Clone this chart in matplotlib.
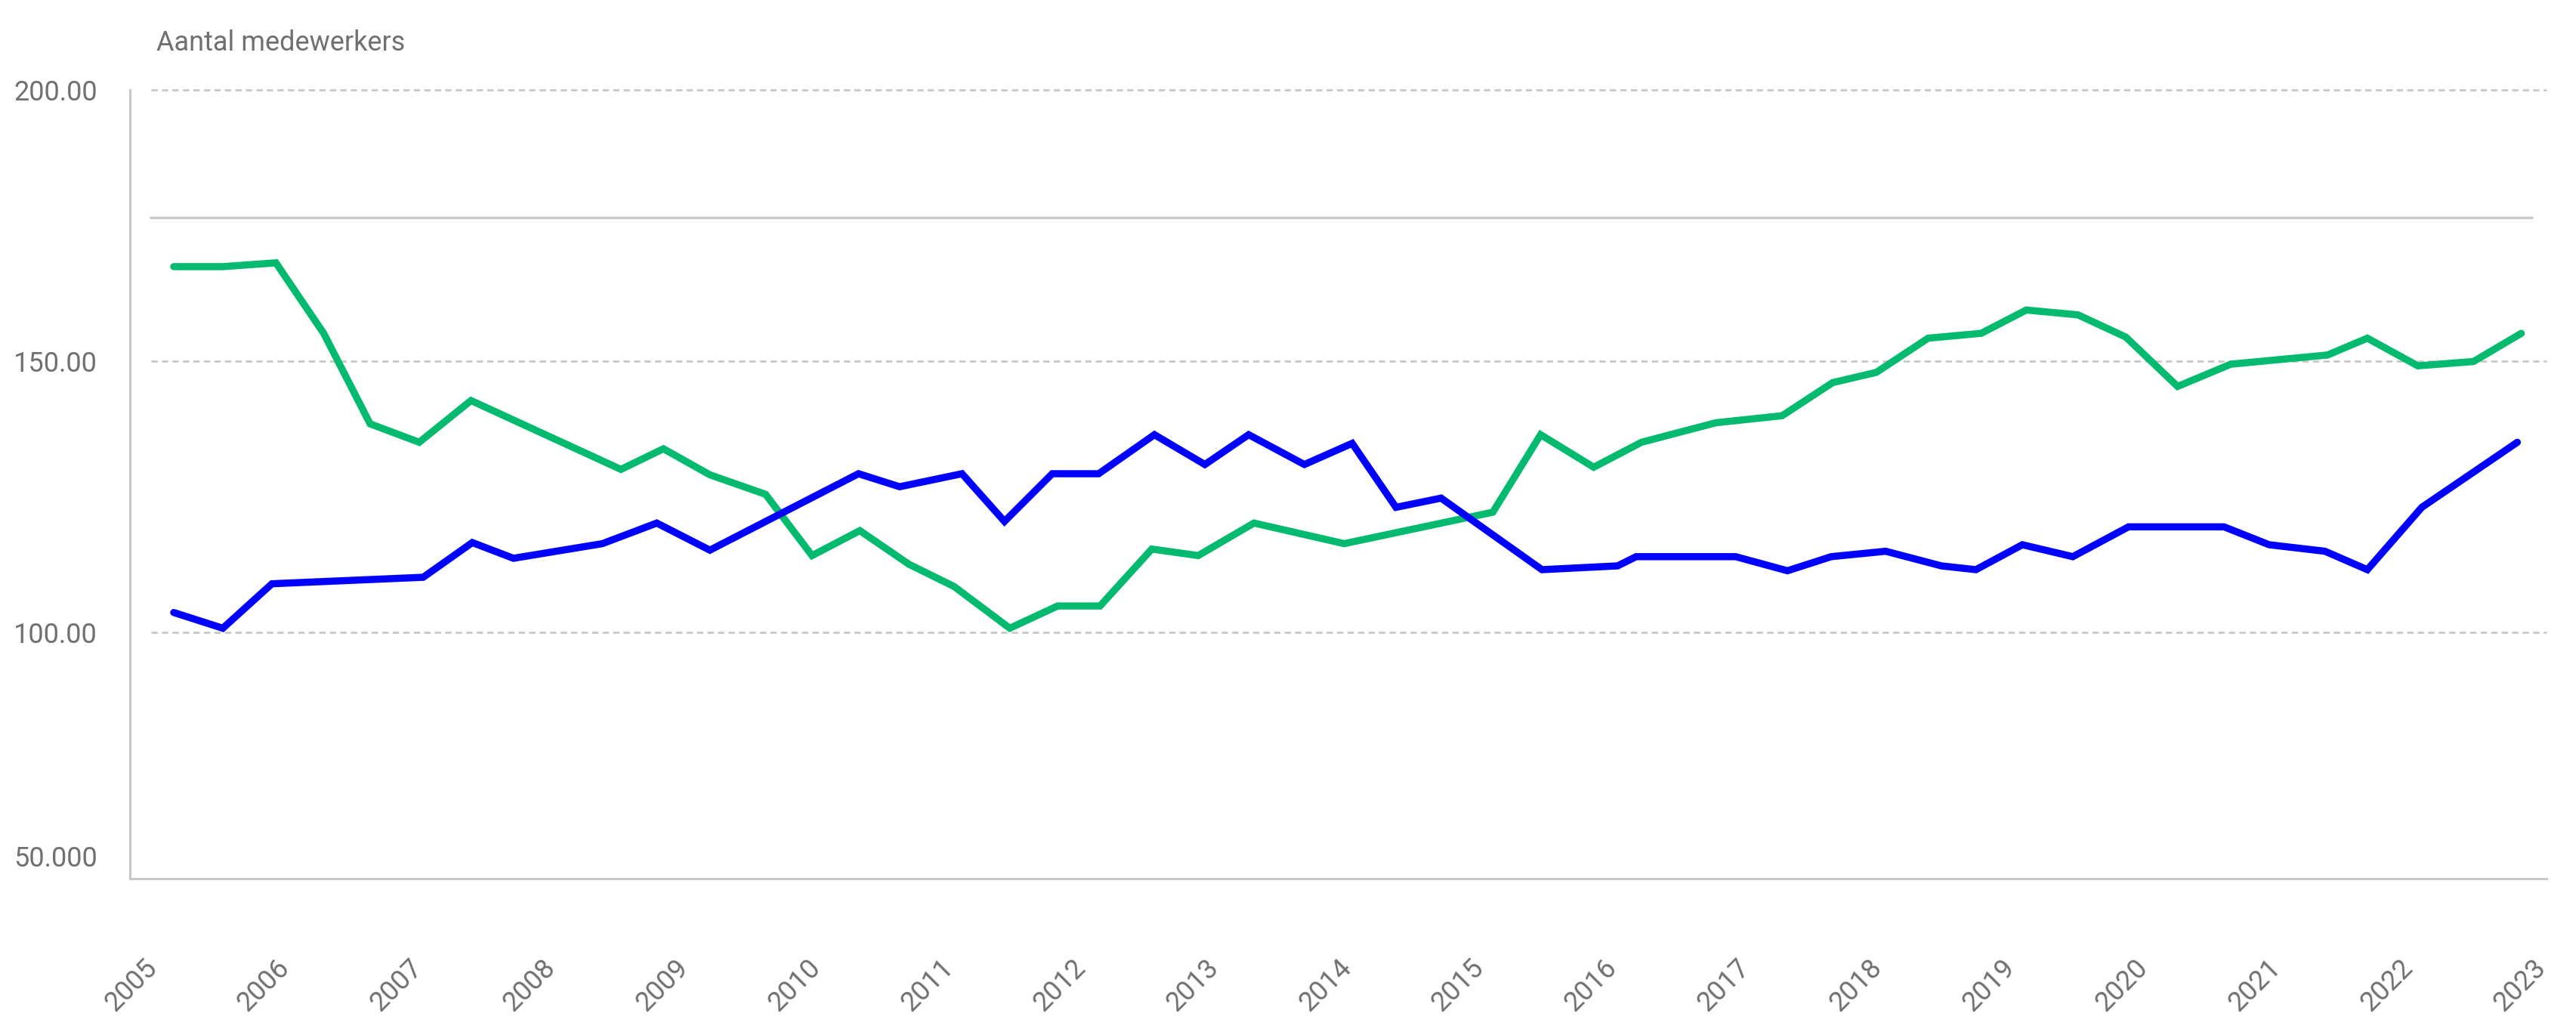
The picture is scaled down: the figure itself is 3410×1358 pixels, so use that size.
import matplotlib
matplotlib.use("Agg")
import matplotlib.pyplot as plt
import numpy as np

plt.rcParams['font.family'] = ['Roboto', 'DejaVu Sans']

# ---- data (decimal year positions) ----
green_x = [2005.32, 2005.69, 2006.09, 2006.45, 2006.80, 2007.17, 2007.56, 2008.69,
           2009.01, 2009.36, 2009.78, 2010.13, 2010.49, 2010.86, 2011.20, 2011.62,
           2011.98, 2012.30, 2012.69, 2013.04, 2013.46, 2014.14, 2015.26, 2015.62,
           2016.02, 2016.38, 2016.94, 2017.44, 2017.82, 2018.15, 2018.54, 2018.94,
           2019.28, 2019.67, 2020.03, 2020.42, 2020.82, 2021.55, 2021.85, 2022.23,
           2022.65, 2023.01]
green_y = [167.4, 167.4, 168.1, 155.1, 138.4, 135.0, 142.7, 130.0,
           133.8, 129.0, 125.4, 114.1, 118.7, 112.5, 108.4, 100.7,
           104.8, 104.8, 115.3, 114.1, 120.1, 116.3, 122.1, 136.4,
           130.4, 135.0, 138.6, 139.9, 146.0, 147.9, 154.2, 155.1,
           159.4, 158.5, 154.4, 145.3, 149.4, 151.1, 154.2, 149.1,
           149.9, 155.1]

blue_x = [2005.32, 2005.69, 2006.06, 2007.20, 2007.57, 2007.88, 2008.55, 2008.96,
          2009.36, 2010.48, 2010.79, 2011.26, 2011.58, 2011.94, 2012.29, 2012.71,
          2013.09, 2013.42, 2013.84, 2014.20, 2014.53, 2014.87, 2015.63, 2016.20,
          2016.34, 2017.09, 2017.48, 2017.81, 2018.22, 2018.64, 2018.90, 2019.25,
          2019.63, 2020.05, 2020.77, 2021.11, 2021.53, 2021.85, 2022.26, 2022.98]
blue_y = [103.6, 100.7, 108.9, 110.1, 116.5, 113.6, 116.3, 120.1,
          115.1, 129.2, 126.8, 129.2, 120.4, 129.2, 129.2, 136.4,
          130.9, 136.4, 130.9, 134.8, 123.0, 124.7, 111.5, 112.2,
          113.9, 113.9, 111.3, 113.9, 114.9, 112.2, 111.5, 116.1,
          113.9, 119.4, 119.4, 116.1, 114.9, 111.5, 123.0, 135.0]

years = list(range(2005, 2024))
year_labels = [str(y) for y in years]
ytick_values = [58.7, 100, 150, 200]
ytick_labels = ["50.000", "100.00", "150.00", "200.00"]
grid_values = [100, 150, 200]
reference_value = 176.4
title = "Aantal medewerkers"

GREEN = "#03BA6E"
BLUE = "#0000FF"
GRAY_TXT = "#707070"
GRAY_LINE = "#C8C8C8"

W, H, DPI = 3410, 1358, 200
fig = plt.figure(figsize=(W / DPI, H / DPI), dpi=DPI)
ax = fig.add_axes([172 / W, 1 - 1163 / H, (3371 - 172) / W, (1163 - 119) / H])

ax.set_xlim(2004.99, 2023.2)
ax.set_ylim(54.5, 200)

# gridlines & reference line
for g in grid_values:
    ax.hlines(g, 2005.15, 2023.2, colors=GRAY_LINE, linestyles=(0, (3, 2)),
              linewidth=1.0, zorder=1, clip_on=False)
ax.hlines(reference_value, 2005.14, 2023.1, colors=GRAY_LINE, linewidth=1.2, zorder=1)

ax.plot(green_x, green_y, color=GREEN, linewidth=3.4, solid_capstyle='round',
        solid_joinstyle='miter', zorder=3)
ax.plot(blue_x, blue_y, color=BLUE, linewidth=3.4, solid_capstyle='round',
        solid_joinstyle='miter', zorder=4)

for s in ['top', 'right']:
    ax.spines[s].set_visible(False)
for s in ['left', 'bottom']:
    ax.spines[s].set_color(GRAY_LINE)
    ax.spines[s].set_linewidth(1.1)

ax.set_yticks(ytick_values)
ax.set_yticklabels(ytick_labels)
ax.set_xticks(years)
ax.set_xticklabels(year_labels, rotation=45, ha='center', va='top')
ax.tick_params(axis='y', length=0, pad=15.5, labelsize=13, labelcolor=GRAY_TXT)
ax.tick_params(axis='x', length=0, pad=36, labelsize=13, labelcolor=GRAY_TXT)

fig.text(207 / W, 1 - 57 / H, title, fontsize=13, color=GRAY_TXT,
         ha='left', va='center')

fig.savefig("out.png", dpi=DPI)
